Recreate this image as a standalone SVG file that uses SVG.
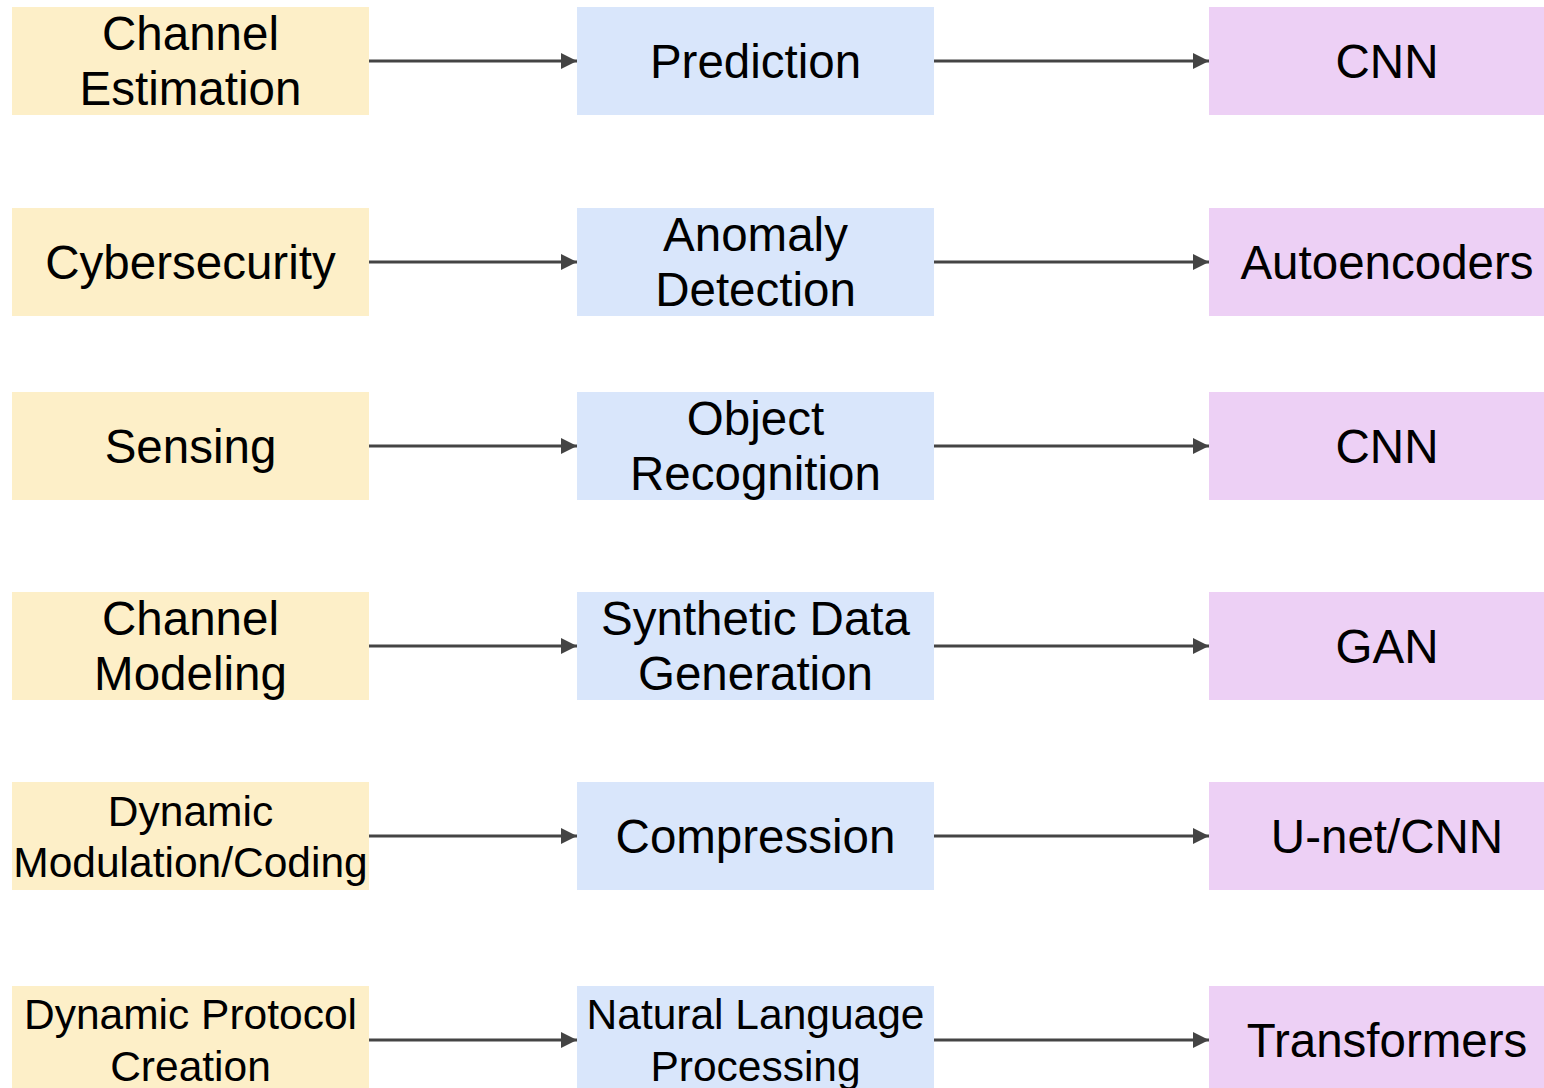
<svg xmlns="http://www.w3.org/2000/svg" width="1544" height="1088" viewBox="0 0 1544 1088">
<style>
.c1{fill:#fdefc8}.c2{fill:#d9e6fb}.c3{fill:#edd0f5}
text{font-family:"Liberation Sans",Arial,sans-serif;font-size:47.5px;fill:#000;text-anchor:middle}
.s42{font-size:42.5px}
.e{stroke:#444;stroke-width:3;fill:none;marker-end:url(#ah)}
</style>
<defs>
<marker id="ah" viewBox="0 0 10 10" refX="10" refY="5" markerUnits="userSpaceOnUse" markerWidth="16" markerHeight="16" orient="auto">
<path d="M0,0 L10,5 L0,10 z" fill="#444"/>
</marker>
</defs>
<rect width="1544" height="1088" fill="#fff"/>
<g id="connectors">
<path class="e" d="M369,61 H577"/><path class="e" d="M934,61 H1209"/>
<path class="e" d="M369,262 H577"/><path class="e" d="M934,262 H1209"/>
<path class="e" d="M369,446 H577"/><path class="e" d="M934,446 H1209"/>
<path class="e" d="M369,646 H577"/><path class="e" d="M934,646 H1209"/>
<path class="e" d="M369,836 H577"/><path class="e" d="M934,836 H1209"/>
<path class="e" d="M369,1040 H577"/><path class="e" d="M934,1040 H1209"/>
</g>
<g id="n1a"><rect class="c1" x="12" y="7" width="357" height="108"/><text x="190.5" y="50">Channel</text><text x="190.5" y="105">Estimation</text></g>
<g id="n1b"><rect class="c2" x="577" y="7" width="357" height="108"/><text x="755.5" y="78">Prediction</text></g>
<g id="n1c"><rect class="c3" x="1209" y="7" width="335" height="108"/><text x="1387" y="78">CNN</text></g>
<g id="n2a"><rect class="c1" x="12" y="208" width="357" height="108"/><text x="190.5" y="279">Cybersecurity</text></g>
<g id="n2b"><rect class="c2" x="577" y="208" width="357" height="108"/><text x="755.5" y="251">Anomaly</text><text x="755.5" y="306">Detection</text></g>
<g id="n2c"><rect class="c3" x="1209" y="208" width="335" height="108"/><text x="1387" y="279">Autoencoders</text></g>
<g id="n3a"><rect class="c1" x="12" y="392" width="357" height="108"/><text x="190.5" y="463">Sensing</text></g>
<g id="n3b"><rect class="c2" x="577" y="392" width="357" height="108"/><text x="755.5" y="435">Object</text><text x="755.5" y="490">Recognition</text></g>
<g id="n3c"><rect class="c3" x="1209" y="392" width="335" height="108"/><text x="1387" y="463">CNN</text></g>
<g id="n4a"><rect class="c1" x="12" y="592" width="357" height="108"/><text x="190.5" y="635">Channel</text><text x="190.5" y="690">Modeling</text></g>
<g id="n4b"><rect class="c2" x="577" y="592" width="357" height="108"/><text x="755.5" y="635">Synthetic Data</text><text x="755.5" y="690">Generation</text></g>
<g id="n4c"><rect class="c3" x="1209" y="592" width="335" height="108"/><text x="1387" y="663">GAN</text></g>
<g id="n5a"><rect class="c1" x="12" y="782" width="357" height="108"/><text class="s42" x="190.5" y="826">Dynamic</text><text class="s42" x="190.5" y="877">Modulation/Coding</text></g>
<g id="n5b"><rect class="c2" x="577" y="782" width="357" height="108"/><text x="755.5" y="853">Compression</text></g>
<g id="n5c"><rect class="c3" x="1209" y="782" width="335" height="108"/><text x="1387" y="853">U-net/CNN</text></g>
<g id="n6a"><rect class="c1" x="12" y="986" width="357" height="108"/><text class="s42" x="190.5" y="1029">Dynamic Protocol</text><text class="s42" x="190.5" y="1081">Creation</text></g>
<g id="n6b"><rect class="c2" x="577" y="986" width="357" height="108"/><text class="s42" x="755.5" y="1029">Natural Language</text><text class="s42" x="755.5" y="1081">Processing</text></g>
<g id="n6c"><rect class="c3" x="1209" y="986" width="335" height="108"/><text x="1387" y="1057">Transformers</text></g>
</svg>
